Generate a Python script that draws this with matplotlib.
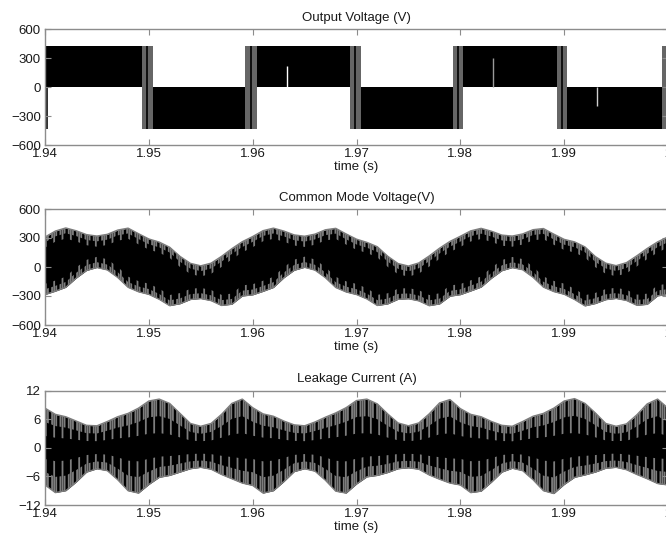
import numpy as np
import matplotlib
matplotlib.use("Agg")
from matplotlib import pyplot as plt

plt.rcParams['font.family'] = ['Liberation Sans', 'DejaVu Sans']
plt.rcParams['hatch.linewidth'] = 1.3

# sampling grid of the envelopes (1 ms steps)
t = np.linspace(1.94, 2.00, 61)

xticks = [1.94, 1.95, 1.96, 1.97, 1.98, 1.99, 2.00]
xticklabels = ['1.94', '1.95', '1.96', '1.97', '1.98', '1.99', '2']

# --- output voltage: PWM blocks
vout_level = 430
vout_block_start = [1.9400, 1.9504, 1.9604, 1.9704, 1.9803, 1.9903]
vout_block_end = [1.9493, 1.9593, 1.9694, 1.9793, 1.9893, 1.9994]
vout_block_sign = [1, -1, 1, -1, 1, -1]
vout_trans_start = [1.9493, 1.9593, 1.9694, 1.9793, 1.9893, 1.9994]
vout_trans_end = [1.9504, 1.9604, 1.9704, 1.9803, 1.9903, 2.0004]
vout_spike = [1.9400, 1.9403]      # short negative spike at the left edge
vout_notch_t = [1.9633, 1.9831, 1.9932]
vout_notch_v = [215, 300, -200]
vout_notch_c = ['white', '#9a9a9a', '#cfcfcf']

# --- common mode voltage envelope (V)
cmv_upper = [310, 372, 404, 375, 335, 320, 338, 382, 402, 345,
             290, 258, 205, 110, 38, 12, 40, 110, 190, 262,
             315, 376, 402, 372, 332, 318, 340, 385, 400, 342,
             288, 255, 210, 112, 36, 10, 42, 114, 195, 265,
             318, 374, 400, 370, 330, 320, 342, 386, 398, 340,
             286, 260, 208, 108, 40, 14, 45, 116, 192, 260,
             312]
cmv_lower = [-285, -250, -210, -115, -36, -5, -30, -108, -210, -256,
             -283, -334, -400, -380, -336, -326, -348, -398, -385, -300,
             -288, -252, -212, -112, -34, -3, -32, -110, -212, -258,
             -285, -330, -398, -382, -334, -328, -350, -400, -382, -302,
             -286, -248, -208, -116, -38, -6, -28, -106, -208, -254,
             -282, -336, -402, -378, -338, -325, -346, -396, -386, -298,
             -284]

# --- leakage current envelope (A)
ileak_upper = [8.3, 7.0, 6.5, 5.6, 4.7, 4.6, 5.5, 6.5, 7.2, 8.3,
               9.8, 10.2, 9.3, 7.2, 5.1, 4.5, 5.1, 7.0, 9.3, 10.2,
               8.4, 7.1, 6.6, 5.6, 4.8, 4.6, 5.4, 6.4, 7.3, 8.4,
               9.9, 10.2, 9.2, 7.1, 5.2, 4.6, 5.2, 7.1, 9.4, 10.1,
               8.2, 7.0, 6.5, 5.5, 4.7, 4.5, 5.5, 6.6, 7.2, 8.3,
               9.8, 10.3, 9.3, 7.3, 5.1, 4.5, 5.0, 6.9, 9.2, 10.2,
               8.3]
ileak_lower = [-7.8, -9.4, -9.0, -7.2, -5.1, -4.4, -4.8, -6.7, -9.0, -9.5,
               -7.7, -6.2, -5.8, -5.1, -4.4, -4.1, -4.5, -5.6, -6.5, -7.4,
               -7.9, -9.5, -9.0, -7.1, -5.0, -4.4, -4.9, -6.8, -9.1, -9.5,
               -7.6, -6.1, -5.8, -5.2, -4.4, -4.2, -4.5, -5.7, -6.6, -7.4,
               -7.8, -9.4, -9.1, -7.2, -5.1, -4.3, -4.8, -6.7, -9.0, -9.6,
               -7.7, -6.2, -5.7, -5.1, -4.3, -4.1, -4.6, -5.6, -6.5, -7.5,
               -7.8]

grey = '#7d7d7d'
frame = '#8c8c8c'
txt = '#1a1a1a'


def style(ax, ylim, yticks, title):
    ax.set_xlim(1.94, 2.00)
    ax.set_ylim(*ylim)
    ax.set_xticks(xticks)
    ax.set_xticklabels(xticklabels)
    ax.set_yticks(yticks)
    ax.tick_params(direction='in', length=4, top=True, right=True,
                   color=frame, labelcolor=txt, labelsize=9.5)
    ax.tick_params(axis='x', pad=2)
    ax.tick_params(axis='y', pad=3)
    for s in ax.spines.values():
        s.set_color(frame)
        s.set_linewidth(1.0)
    ax.set_title(title, fontsize=9.5, color=txt, pad=6)
    ax.set_xlabel('time (s)', fontsize=9.5, color=txt, labelpad=1)


def envelope(ax, upper, lower, deep, shallow):
    upper = np.array(upper)
    lower = np.array(lower)
    ax.fill_between(t, lower, upper, color='black', lw=0)
    # switching streaks near the edges: long ones sparse, short ones dense
    for depth, hatch in [(deep, '||'), (shallow, '||||')]:
        ax.fill_between(t, upper - depth(upper), upper, facecolor='none',
                        edgecolor=grey, hatch=hatch, lw=0)
        ax.fill_between(t, lower, lower - depth(lower), facecolor='none',
                        edgecolor=grey, hatch=hatch, lw=0)
    ax.plot(t, upper, color=grey, lw=1.0)
    ax.plot(t, lower, color=grey, lw=1.0)


fig = plt.figure(figsize=(6.66, 5.46), dpi=100)

# Output voltage
ax1 = fig.add_axes([45 / 666, 1 - 145 / 546, 623 / 666, 115.7 / 546])
starts = np.array(vout_block_start)
ends = np.array(vout_block_end)
ax1.bar(starts, np.array(vout_block_sign) * vout_level, width=ends - starts,
        align='edge', color='black', lw=0)
ts = np.array(vout_trans_start)
te = np.array(vout_trans_end)
ax1.bar(ts, 2 * vout_level, bottom=-vout_level, width=te - ts,
        align='edge', color='#666666', lw=0)
ax1.vlines((ts + te) / 2, -vout_level, vout_level, color='black', lw=1.2)
ax1.bar(vout_spike[0], -vout_level, width=vout_spike[1] - vout_spike[0],
        align='edge', color='#333333', lw=0)
ax1.vlines(vout_notch_t, 0, vout_notch_v, colors=vout_notch_c, lw=1.0)
style(ax1, (-600, 600), [-600, -300, 0, 300, 600], 'Output Voltage (V)')

# Common mode voltage
ax2 = fig.add_axes([45 / 666, 1 - 325 / 546, 623 / 666, 116 / 546])
envelope(ax2, cmv_upper, cmv_lower,
         lambda v: 110 * np.sign(v), lambda v: 55 * np.sign(v))
style(ax2, (-600, 600), [-600, -300, 0, 300, 600], 'Common Mode Voltage(V)')

# Leakage current
ax3 = fig.add_axes([45 / 666, 1 - 505 / 546, 623 / 666, 114.5 / 546])
envelope(ax3, ileak_upper, ileak_lower,
         lambda v: 0.7 * v, lambda v: 0.35 * v)
style(ax3, (-12, 12), [-12, -6, 0, 6, 12], 'Leakage Current (A)')

fig.savefig('out.png', dpi=100)
